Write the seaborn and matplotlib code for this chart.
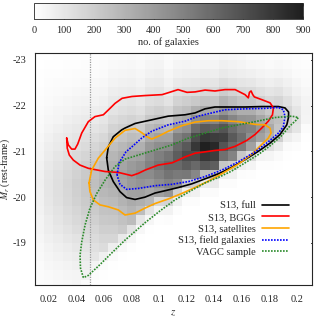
import numpy as np
import matplotlib
matplotlib.use("Agg")
import matplotlib.pyplot as plt
import matplotlib.ticker as mticker
from matplotlib.colors import LinearSegmentedColormap
import seaborn as sns

# ---------------------------------------------------------------------------
# data
# ---------------------------------------------------------------------------
# 2d histogram: 30 redshift bins x 26 magnitude bins (rows go from -23.1 to -18.1)
z_edges = np.linspace(0.01, 0.21, 31)
mag_edges = np.linspace(-23.2, -18.0, 27)

counts_by_z = [
    [2, 3, 5, 7, 10, 14, 18, 23, 28, 34, 40, 47, 53, 58, 60, 59, 57, 53, 48, 43, 37, 30, 25, 19, 15, 11],
    [3, 5, 8, 12, 17, 23, 30, 38, 47, 57, 67, 78, 88, 96, 100, 99, 95, 88, 80, 71, 61, 50, 41, 32, 25, 19],
    [4, 7, 10, 16, 22, 30, 39, 49, 61, 74, 87, 101, 114, 125, 130, 129, 124, 114, 104, 92, 79, 65, 53, 42, 33, 25],
    [5, 8, 13, 19, 27, 37, 48, 61, 75, 91, 107, 125, 141, 154, 160, 158, 152, 141, 128, 114, 98, 80, 66, 51, 40, 30],
    [6, 10, 15, 23, 32, 44, 57, 72, 89, 108, 127, 148, 167, 182, 190, 188, 181, 167, 152, 135, 116, 95, 78, 61, 48, 36],
    [7, 11, 18, 26, 37, 51, 66, 84, 103, 125, 147, 172, 194, 211, 220, 218, 209, 194, 176, 156, 134, 110, 90, 70, 55, 21],
    [9, 14, 21, 29, 39, 52, 68, 86, 109, 135, 164, 195, 224, 247, 260, 247, 229, 208, 187, 166, 146, 125, 104, 43, 14, 3],
    [11, 17, 24, 33, 45, 60, 78, 99, 126, 156, 189, 225, 258, 285, 300, 285, 264, 240, 216, 192, 168, 144, 60, 20, 4, 0],
    [19, 27, 37, 51, 68, 88, 112, 143, 177, 214, 255, 292, 323, 340, 323, 299, 272, 245, 218, 190, 163, 68, 22, 5, 0, 0],
    [21, 30, 42, 57, 76, 99, 125, 160, 198, 239, 285, 327, 361, 380, 361, 334, 304, 274, 243, 213, 91, 30, 6, 0, 0, 0],
    [23, 34, 46, 63, 84, 109, 139, 176, 218, 265, 315, 361, 399, 420, 399, 370, 336, 302, 269, 118, 40, 8, 0, 0, 0, 0],
    [16, 25, 37, 51, 69, 92, 120, 156, 202, 253, 313, 377, 428, 460, 423, 377, 322, 267, 108, 34, 6, 0, 0, 0, 0, 0],
    [28, 40, 55, 75, 100, 130, 170, 220, 275, 340, 410, 465, 500, 460, 410, 350, 290, 118, 37, 7, 0, 0, 0, 0, 0, 0],
    [30, 44, 61, 83, 110, 143, 187, 242, 303, 374, 451, 512, 550, 506, 451, 385, 160, 52, 10, 0, 0, 0, 0, 0, 0, 0],
    [18, 24, 36, 54, 78, 114, 162, 216, 288, 372, 468, 552, 600, 552, 492, 420, 174, 56, 11, 0, 0, 0, 0, 0, 0, 0],
    [26, 39, 59, 85, 124, 176, 234, 312, 403, 507, 598, 650, 598, 533, 455, 189, 61, 12, 0, 0, 0, 0, 0, 0, 0, 0],
    [29, 43, 65, 94, 137, 194, 259, 346, 446, 562, 662, 720, 648, 540, 216, 68, 13, 0, 0, 0, 0, 0, 0, 0, 0, 0],
    [28, 40, 64, 96, 144, 216, 320, 448, 592, 720, 800, 720, 600, 480, 188, 58, 11, 0, 0, 0, 0, 0, 0, 0, 0, 0],
    [31, 45, 71, 107, 160, 240, 356, 498, 659, 801, 890, 801, 668, 267, 84, 16, 0, 0, 0, 0, 0, 0, 0, 0, 0, 0],
    [30, 43, 69, 103, 155, 232, 344, 482, 636, 774, 860, 774, 645, 258, 81, 15, 0, 0, 0, 0, 0, 0, 0, 0, 0, 0],
    [38, 61, 91, 137, 205, 304, 426, 562, 684, 760, 684, 570, 228, 71, 14, 0, 0, 0, 0, 0, 0, 0, 0, 0, 0, 0],
    [33, 53, 79, 119, 178, 264, 370, 488, 594, 660, 594, 495, 198, 62, 12, 0, 0, 0, 0, 0, 0, 0, 0, 0, 0, 0],
    [29, 46, 70, 104, 157, 232, 325, 429, 522, 580, 522, 218, 70, 14, 0, 0, 0, 0, 0, 0, 0, 0, 0, 0, 0, 0],
    [20, 35, 60, 95, 150, 225, 325, 425, 500, 450, 375, 150, 47, 9, 0, 0, 0, 0, 0, 0, 0, 0, 0, 0, 0, 0],
    [17, 29, 50, 80, 126, 189, 273, 357, 420, 378, 158, 50, 10, 0, 0, 0, 0, 0, 0, 0, 0, 0, 0, 0, 0, 0],
    [14, 24, 41, 65, 102, 153, 221, 289, 340, 306, 128, 41, 8, 0, 0, 0, 0, 0, 0, 0, 0, 0, 0, 0, 0, 0],
    [18, 31, 49, 78, 117, 169, 221, 260, 234, 195, 78, 24, 5, 0, 0, 0, 0, 0, 0, 0, 0, 0, 0, 0, 0, 0],
    [13, 23, 36, 57, 86, 124, 162, 190, 171, 71, 23, 4, 0, 0, 0, 0, 0, 0, 0, 0, 0, 0, 0, 0, 0, 0],
    [8, 14, 23, 36, 54, 78, 102, 120, 108, 45, 14, 3, 0, 0, 0, 0, 0, 0, 0, 0, 0, 0, 0, 0, 0, 0],
    [6, 10, 15, 23, 33, 43, 50, 45, 19, 6, 1, 0, 0, 0, 0, 0, 0, 0, 0, 0, 0, 0, 0, 0, 0, 0],
]

# contour outlines (z, M_r)
full_z = [0.0620, 0.0632, 0.0668, 0.0729, 0.0753, 0.0826, 0.0947, 0.1067, 0.1189, 0.1261,
          0.1334, 0.1406, 0.1527, 0.1624, 0.1745, 0.1866, 0.1914, 0.1940, 0.1940, 0.1927,
          0.1878, 0.1805, 0.1720, 0.1624, 0.1527, 0.1430, 0.1334, 0.1237, 0.1140, 0.1043,
          0.0971, 0.0898, 0.0826, 0.0765, 0.0717, 0.0668, 0.0632]
full_m = [-20.86, -21.10, -21.32, -21.47, -21.51, -21.61, -21.69, -21.77, -21.80, -21.84,
          -21.93, -21.97, -21.97, -21.97, -21.98, -21.98, -21.95, -21.86, -21.75, -21.58,
          -21.37, -21.18, -21.00, -20.82, -20.65, -20.51, -20.40, -20.29, -20.21, -20.14,
          -20.09, -20.00, -19.95, -19.99, -20.12, -20.34, -20.59]

bgg_z = [0.0330, 0.0342, 0.0366, 0.0390, 0.0410, 0.0439, 0.0487, 0.0535, 0.0596, 0.0644,
         0.0681, 0.0732, 0.0804, 0.0898, 0.1022, 0.1065, 0.1138, 0.1203, 0.1262, 0.1334,
         0.1406, 0.1479, 0.1552, 0.1624, 0.1648, 0.1656, 0.1668, 0.1680, 0.1692, 0.1746,
         0.1806, 0.1830, 0.1823, 0.1793, 0.1745, 0.1697, 0.1637, 0.1552, 0.1479, 0.1406,
         0.1334, 0.1262, 0.1189, 0.1140, 0.1095, 0.0993, 0.0898, 0.0850, 0.0802, 0.0705,
         0.0608, 0.0487, 0.0427, 0.0378, 0.0349, 0.0334]
bgg_m = [-21.29, -21.14, -21.05, -21.05, -21.16, -21.40, -21.65, -21.76, -21.80, -21.94,
         -22.05, -22.16, -22.20, -22.22, -22.24, -22.28, -22.35, -22.29, -22.30, -22.34,
         -22.32, -22.35, -22.35, -22.24, -22.17, -22.29, -22.32, -22.24, -22.19, -22.13,
         -22.06, -21.95, -21.80, -21.66, -21.51, -21.37, -21.24, -21.11, -21.04, -21.02,
         -20.99, -20.96, -20.88, -20.81, -20.75, -20.70, -20.59, -20.52, -20.47, -20.54,
         -20.56, -20.63, -20.70, -20.81, -20.92, -21.07]

sat_z = [0.0492, 0.0511, 0.0559, 0.0620, 0.0681, 0.0753, 0.0826, 0.0874, 0.0913, 0.0947,
         0.0995, 0.1067, 0.1165, 0.1261, 0.1358, 0.1455, 0.1575, 0.1697, 0.1769, 0.1805,
         0.1813, 0.1793, 0.1745, 0.1673, 0.1575, 0.1455, 0.1358, 0.1261, 0.1165, 0.1067,
         0.0971, 0.0898, 0.0826, 0.0753, 0.0705, 0.0632, 0.0572, 0.0523, 0.0499]
sat_m = [-20.31, -20.59, -20.85, -21.07, -21.29, -21.46, -21.50, -21.41, -21.32, -21.27,
         -21.33, -21.44, -21.56, -21.64, -21.67, -21.67, -21.65, -21.59, -21.58, -21.51,
         -21.40, -21.29, -21.15, -20.94, -20.72, -20.51, -20.35, -20.21, -20.08, -19.96,
         -19.86, -19.76, -19.65, -19.61, -19.72, -19.79, -19.83, -19.94, -20.12]

field_z = [0.0695, 0.0710, 0.0760, 0.0811, 0.0874, 0.0947, 0.1007, 0.1067, 0.1189, 0.1285,
           0.1382, 0.1479, 0.1624, 0.1769, 0.1866, 0.1902, 0.1914, 0.1902, 0.1866, 0.1793,
           0.1697, 0.1575, 0.1455, 0.1334, 0.1213, 0.1092, 0.0971, 0.0850, 0.0765, 0.0717]
field_m = [-20.48, -20.75, -20.99, -21.12, -21.29, -21.44, -21.51, -21.58, -21.66, -21.77,
           -21.84, -21.91, -21.93, -21.94, -21.96, -21.91, -21.76, -21.54, -21.40, -21.21,
           -20.99, -20.77, -20.59, -20.45, -20.34, -20.28, -20.25, -20.19, -20.17, -20.28]

vagc_z = [0.0451, 0.0430, 0.0427, 0.0439, 0.0463, 0.0499, 0.0548, 0.0608, 0.0681, 0.0753,
          0.0850, 0.0971, 0.1092, 0.1213, 0.1334, 0.1455, 0.1575, 0.1697, 0.1842, 0.1963,
          0.2011, 0.1994, 0.1951, 0.1885, 0.1805, 0.1720, 0.1624, 0.1527, 0.1430, 0.1334,
          0.1225, 0.1116, 0.1007, 0.0898, 0.0753, 0.0657, 0.0559, 0.0487]
vagc_m = [-18.24, -18.45, -18.73, -19.02, -19.39, -19.76, -20.08, -20.37, -20.67, -20.83,
          -20.92, -21.03, -21.14, -21.29, -21.40, -21.51, -21.58, -21.65, -21.74, -21.77,
          -21.74, -21.68, -21.56, -21.33, -21.12, -20.93, -20.75, -20.57, -20.43, -20.31,
          -20.13, -19.94, -19.70, -19.44, -19.06, -18.78, -18.49, -18.29]

z_cut = 0.05

x_ticks = [0.02, 0.04, 0.06, 0.08, 0.10, 0.12, 0.14, 0.16, 0.18, 0.20]
x_tick_labels = ["0.02", "0.04", "0.06", "0.08", "0.1", "0.12", "0.14", "0.16", "0.18", "0.2"]
y_ticks = [-23, -22, -21, -20, -19]
cbar_ticks = [0, 100, 200, 300, 400, 500, 600, 700, 800, 900]

# ---------------------------------------------------------------------------
# style
# ---------------------------------------------------------------------------
sns.set_style("ticks")
plt.rcParams.update({
    "font.family": ["Liberation Serif", "DejaVu Serif"],
    "mathtext.fontset": "stix",
    "axes.unicode_minus": False,
    "font.size": 7.5,
    "axes.linewidth": 0.8,
})

grey_cmap = LinearSegmentedColormap.from_list("galaxy_grey", ["#ffffff", "#1e1e1e"])

fig = plt.figure(figsize=(3.15, 3.28), dpi=100)
ax = fig.add_axes([0.1111, 0.1311, 0.8794, 0.7073])
cax = fig.add_axes([0.108, 0.9421, 0.854, 0.0488])

counts = np.array(counts_by_z, dtype=float).T
mesh = ax.pcolormesh(z_edges, mag_edges, counts, cmap=grey_cmap, vmin=0, vmax=900,
                     shading="flat", rasterized=True)

ax.axvline(z_cut, color="#9a9a9a", lw=0.9, ls=(0, (1, 1)), zorder=2)

series = [
    (full_z, full_m, "black", "-", "S13, full"),
    (bgg_z, bgg_m, "#ff0000", "-", "S13, BGGs"),
    (sat_z, sat_m, "#ffa500", "-", "S13, satellites"),
    (field_z, field_m, "#0000ff", (0, (1, 0.8)), "S13, field galaxies"),
    (vagc_z, vagc_m, "#2a8a2a", (0, (1, 0.8)), "VAGC sample"),
]
for zs, ms, col, ls, lab in series:
    zc = list(zs) + [zs[0]]
    mc = list(ms) + [ms[0]]
    sns.lineplot(x=zc, y=mc, sort=False, estimator=None, color=col, linestyle=ls,
                 lw=1.2, label=lab, ax=ax, zorder=3)

ax.set_xlim(0.01, 0.211)
ax.set_ylim(-18.08, -23.15)
ax.set_xticks(x_ticks)
ax.set_xticklabels(x_tick_labels)
ax.set_yticks(y_ticks)
ax.yaxis.set_major_formatter(mticker.FuncFormatter(lambda v, p: f"{v:.0f}"))
ax.tick_params(direction="in", top=True, right=True, length=3.5, width=0.6,
               labelsize=7.5)
ax.tick_params(axis="y", pad=6)
ax.tick_params(axis="x", pad=7)
ax.set_xlabel("$z$", fontsize=8, labelpad=4)
ax.set_ylabel("$M_r$ (rest-frame)", fontsize=7, va="center")
ax.yaxis.set_label_coords(-0.106, 0.5)

leg = ax.legend(loc="lower right", bbox_to_anchor=(0.935, 0.10), frameon=False,
                markerfirst=False, handlelength=2.6, handletextpad=0.6,
                labelspacing=0.2, borderpad=0, fontsize=7.5)

cb = fig.colorbar(mesh, cax=cax, orientation="horizontal")
cb.set_ticks(cbar_ticks)
cb.outline.set_linewidth(0.6)
cax.tick_params(direction="in", top=True, bottom=True, length=2.5, width=0.5,
                labelsize=7.5, pad=5)
cb.set_label("no. of galaxies", fontsize=7.5, labelpad=2)

fig.savefig("out.png", dpi=100)
